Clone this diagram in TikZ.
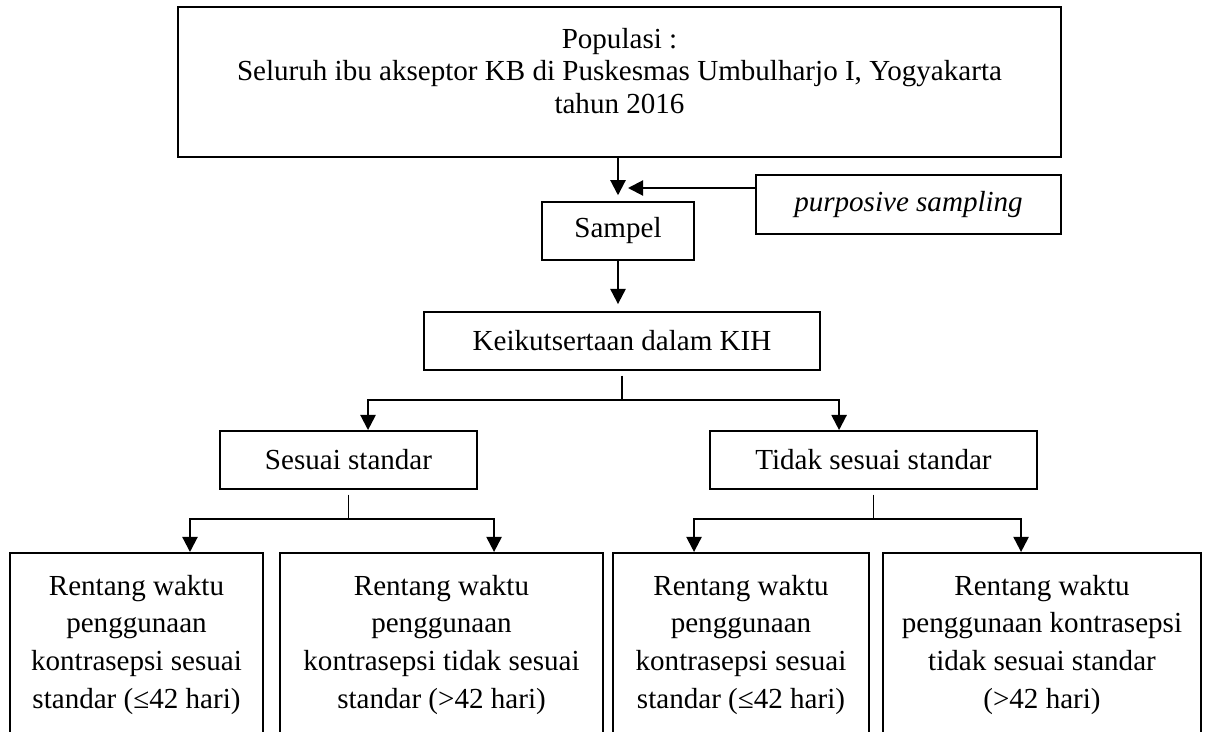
\documentclass[tikz,border=0pt]{standalone}
\usepackage{fontspec}
\setmainfont{Liberation Serif}
\usetikzlibrary{positioning,arrows.meta}
\def\pu{0.43pt}
\tikzset{
>={Triangle[length=6.5pt,width=6.5pt]},
  kotak/.style={
    rectangle,
    draw=black, line width=0.8pt,
    inner sep=0pt,
    font=\fontsize{12.5}{13.8}\selectfont,
    align=center},
  kotakbawah/.style={
    kotak,
    anchor=north,
    minimum height=184*\pu,
    font=\fontsize{12.5}{16.3}\selectfont},
  panah/.style={draw, line width=0.9pt, ->},
  garis/.style={draw, line width=0.5pt},
}
\begin{document}
\begin{tikzpicture}[x=\pu,y=-\pu]
		\useasboundingbox (0,0) rectangle (1213,731);
		\clip (0,0) rectangle (1213,731);
		\node[kotak, minimum width=883*\pu, minimum height=150*\pu] (populasi) at (619.5,82) {};
		\node[kotak, draw=none] (populasi-teks) at (619.5,71) {Populasi :\\ Seluruh ibu akseptor KB di Puskesmas Umbulharjo I, Yogyakarta\\ tahun 2016};
		\node[kotak, minimum width=152*\pu, minimum height=58*\pu] (sampel) at (618,231) {Sampel};
		\node[kotak, minimum width=305*\pu, minimum height=59*\pu, font=\fontsize{12.5}{13.8}\selectfont\itshape] (purposive) at (908.5,204.5) {purposive sampling};
		\node[kotak, minimum width=396*\pu, minimum height=58*\pu] (keikutsertaan) at (622,341) {Keikutsertaan dalam KIH};
		\node[kotak, minimum width=257*\pu, minimum height=58*\pu] (sesuai) at (348.5,460) {Sesuai standar};
		\node[kotak, minimum width=327*\pu, minimum height=58*\pu] (tidak) at (873.5,460) {Tidak sesuai standar};
		\node[kotakbawah, minimum width=253*\pu] (rentang1) at (136.5,552) {Rentang waktu\\ penggunaan\\ kontrasepsi sesuai\\ standar (≤42 hari)};
		\node[kotakbawah, minimum width=323*\pu] (rentang2) at (441.5,552) {Rentang waktu\\ penggunaan\\ kontrasepsi tidak sesuai\\ standar (>42 hari)};
		\node[kotakbawah, minimum width=256*\pu] (rentang3) at (741,552) {Rentang waktu\\ penggunaan\\ kontrasepsi sesuai\\ standar (≤42 hari)};
		\node[kotakbawah, minimum width=318*\pu] (rentang4) at (1042,552) {Rentang waktu\\ penggunaan kontrasepsi\\ tidak sesuai standar\\ (>42 hari)};
		\coordinate (masuk) at (628,188);
		\draw[panah, shorten >=2.5pt] (sampel.north |- populasi.south) -- (sampel.north);
		\draw[panah] (purposive.west |- masuk) -- (masuk);
		\draw[panah, shorten >=3pt] (sampel.south) -- (sampel.south |- keikutsertaan.north);
		\draw[garis] ([yshift=-2pt]keikutsertaan.south) -- ++(0,24) coordinate (kj);
		\draw[panah] (kj) -| ([xshift=8.4pt]sesuai.north);
		\draw[panah] (kj) -| ([xshift=-14.8pt]tidak.north);
		\draw[garis] ([yshift=-2pt]sesuai.south) -- ++(0,24) coordinate (sj);
		\draw[panah] (sj) -| ([xshift=23pt]rentang1.north);
		\draw[panah] (sj) -| ([xshift=22.6pt]rentang2.north);
		\draw[garis] ([yshift=-2pt]tidak.south) -- ++(0,24) coordinate (tj);
		\draw[panah] (tj) -| ([xshift=-20.2pt]rentang3.north);
		\draw[panah] (tj) -| ([xshift=-9pt]rentang4.north);
	\end{tikzpicture}
\end{document}
